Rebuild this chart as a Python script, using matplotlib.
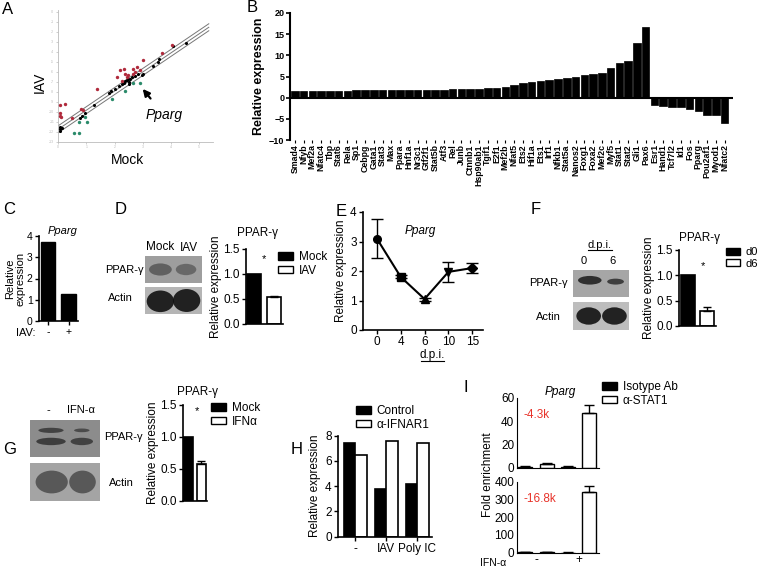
import matplotlib
matplotlib.use("Agg")
import matplotlib.pyplot as plt
from matplotlib.patches import Ellipse, Rectangle, Patch
from matplotlib.lines import Line2D
import numpy as np

plt.rcParams["font.family"] = ["Liberation Sans", "DejaVu Sans"]
plt.rcParams["axes.linewidth"] = 1.2

# ---- data ----
# A: array scatter (IAV vs mock, log intensity)
a_black_x = [0.05, 0.05, 0.07, 0.14, 0.79, 0.85, 0.96, 1.26, 1.79, 1.88, 2.02, 2.16, 2.26, 2.32, 2.38,
             2.44, 2.49, 2.52, 2.52, 2.55, 2.61, 2.71, 2.85, 2.96, 3.02, 3.38, 3.55, 3.58, 4.08, 4.55]
a_black_y = [1.07, 1.27, 1.5, 1.33, 2.33, 2.57, 2.83, 3.67, 4.93, 5.07, 5.33, 5.6, 5.83, 5.93, 6.07,
             6.17, 6.27, 6.0, 5.8, 6.33, 6.5, 6.6, 6.77, 6.73, 6.83, 7.6, 8.0, 8.33, 9.6, 9.9]
a_red_x = [0.05, 0.05, 0.05, 0.11, 0.24, 0.49, 0.82, 0.87, 1.38, 2.08, 2.2, 2.32, 2.38, 2.26, 2.44,
           2.49, 2.64, 2.67, 2.73, 2.79, 2.91, 3.02, 3.67, 4.05]
a_red_y = [3.67, 2.83, 2.6, 2.5, 3.73, 2.4, 3.27, 3.13, 5.33, 6.5, 7.17, 7.33, 6.83, 6.07, 6.5,
           6.67, 6.83, 7.33, 7.0, 7.5, 7.17, 8.17, 8.93, 9.67]
a_green_x = [0.55, 0.73, 0.73, 0.94, 1.02, 1.91, 2.38, 2.67, 2.91]
a_green_y = [0.9, 0.9, 2.0, 2.5, 1.93, 4.23, 5.07, 5.9, 5.93]
a_fit_slope = 1.91
a_fit_icept = 1.25
a_fit_band = 0.35

# B: transcription factor array
b_genes = ["Smad4", "Nfyb", "Mef2a", "Nfatc4", "Tbp", "Stat6", "Rela", "Sp1", "Cebpg", "Gata1",
           "Stat3", "Max", "Ppara", "Hnf1a", "Nr3c1", "Gtf2f1", "Stat5b", "Atf3", "Rel", "Junb",
           "Ctnnb1", "Hsp90ab1", "Tgif1", "E2f1", "Mef2b", "Nfat5", "Ets2", "Hif1a", "Ets1", "Irf1",
           "Nfkb1", "Stat5a", "Nanos2", "Foxg1", "Foxa2", "Mef2c", "Myf5", "Stat1", "Stat2", "Gli1",
           "Pax6", "Esr1", "Hand1", "Tcf7l2", "Id1", "Fos", "Pparg", "Pou2af1", "Myod1", "Nfatc2"]
b_values = [1.6, 1.6, 1.6, 1.6, 1.6, 1.6, 1.6, 1.7, 1.7, 1.7,
            1.7, 1.7, 1.7, 1.8, 1.8, 1.8, 1.8, 1.9, 2.0, 2.0,
            2.0, 2.1, 2.3, 2.4, 2.5, 2.9, 3.5, 3.6, 4.0, 4.1,
            4.5, 4.7, 4.8, 5.3, 5.6, 5.9, 7.0, 8.3, 8.6, 12.8,
            16.7, -1.8, -2.0, -2.1, -2.2, -2.6, -3.1, -4.0, -4.0, -6.0]

# C
c_labels = ["-", "+"]
c_values = [3.7, 1.25]

# D
d_groups = ["Mock", "IAV"]
d_values = [1.0, 0.55]
d_err = [0.0, 0.02]

# E
e_days = ["0", "4", "6", "10", "15"]
e_values = [3.1, 1.8, 1.05, 1.97, 2.1]
e_err = [0.65, 0.05, 0.05, 0.33, 0.17]
e_markers = ["o", "s", "^", "v", "D"]

# F
f_groups = ["d0", "d6"]
f_values = [1.0, 0.3]
f_err = [0.0, 0.07]

# G
g_groups = ["Mock", "IFNα"]
g_values = [1.0, 0.58]
g_err = [0.0, 0.04]

# H
h_conditions = ["-", "IAV", "Poly IC"]
h_control = [7.45, 3.75, 4.15]
h_ifnar = [6.45, 7.6, 7.4]

# I: ChIP, two loci
i_groups = ["Isotype Ab", "α-STAT1"]
i_top = [1.0, 3.5, 1.0, 47.0]
i_top_err = [0.2, 0.5, 0.1, 7.0]
i_bottom = [1.5, 3.5, 1.0, 344.0]
i_bottom_err = [0.3, 0.5, 0.2, 34.0]
i_site_text = ["-4.3k", "-16.8k"]

W, H = 760, 567
fig = plt.figure(figsize=(7.6, 5.67), dpi=100)


def add_ax(l, t, r, b):
    return fig.add_axes([l / W, 1 - b / H, (r - l) / W, (b - t) / H])


def ftext(x, y, s, ha="center", va="center", **kw):
    fig.text(x / W, 1 - y / H, s, ha=ha, va=va, **kw)


def underline(x0, x1, y):
    fig.add_artist(Line2D([x0 / W, x1 / W], [1 - y / H, 1 - y / H], color="black", lw=0.8))


def prism(ax, fs=7.5):
    ax.spines["top"].set_visible(False)
    ax.spines["right"].set_visible(False)
    ax.tick_params(direction="out", length=3, width=1, labelsize=fs, pad=1.5)


def blot(l, t, r, b, bg, bands):
    ax = add_ax(l, t, r, b)
    ax.set_xlim(0, 1)
    ax.set_ylim(0, 1)
    ax.axis("off")
    ax.add_patch(Rectangle((0, 0), 1, 1, color=bg))
    for cx, cy, w, h, col in bands:
        ax.add_patch(Ellipse((cx, cy), w, h, color=col, alpha=0.9, lw=0))


def bar_legend(ax, labels, x, y, fs=8.5):
    handles = [Patch(facecolor="black", edgecolor="black"),
               Patch(facecolor="white", edgecolor="black")]
    ax.legend(handles, labels, loc="upper left", bbox_to_anchor=(x / W, 1 - y / H),
              bbox_transform=fig.transFigure, frameon=False, fontsize=fs,
              handlelength=1.3, handleheight=0.6, labelspacing=0.15,
              handletextpad=0.45, borderpad=0, borderaxespad=0)


def pair_bars(ax, values, err, xlim, ymax, yticks, width=0.72):
    x = np.arange(len(values))
    ax.bar(x, values, width=width, color=["black", "white"], edgecolor="black", lw=1.2)
    ax.errorbar(x[1:], values[1:], yerr=[[0] * (len(values) - 1), err[1:]], fmt="none",
                ecolor="black", elinewidth=1, capsize=3, capthick=1)
    ax.set_xlim(*xlim)
    ax.set_ylim(0, ymax)
    ax.set_yticks(yticks)
    ax.set_xticks([])
    prism(ax)


# ---- A ----
ax = add_ax(57.7, 10, 213, 141.7)
ax.scatter(a_black_x, a_black_y, s=5, color="black", zorder=3, lw=0)
ax.scatter(a_red_x, a_red_y, s=6, color="#b02a3c", zorder=3, lw=0)
ax.scatter(a_green_x, a_green_y, s=6, color="#2a8a6a", zorder=3, lw=0)
xf = np.array([0.0, 5.35])
for off in (-a_fit_band, 0, a_fit_band):
    ax.plot(xf, a_fit_icept + a_fit_slope * xf + off, color="#777777", lw=0.7)
ax.set_xlim(-0.02, 5.5)
ax.set_ylim(0, 13.2)
ax.set_xticks(np.arange(0, 6))
ax.set_xticklabels([str(v) for v in np.arange(0, 6)])
ax.set_yticks(np.arange(0, 14))
ax.set_yticklabels(["-" + str(v) for v in np.arange(13, -1, -1)])
for s in ("top", "right"):
    ax.spines[s].set_visible(False)
for s in ("left", "bottom"):
    ax.spines[s].set_color("#bbbbbb")
    ax.spines[s].set_linewidth(0.6)
ax.tick_params(length=1.5, width=0.5, colors="#bbbbbb", labelsize=2.5, pad=1)
ax.annotate("Pparg", xy=(2.97, 5.4), xytext=(3.75, 2.7), fontsize=10, style="italic",
            ha="center", va="center",
            arrowprops=dict(arrowstyle="-|>", color="black", lw=1.6, shrinkA=6, shrinkB=1))
ftext(40, 82, "IAV", fontsize=10, rotation=90)
ftext(128, 160, "Mock", fontsize=10)
ftext(8, 10, "A", fontsize=12)

# ---- B ----
ax = add_ax(290, 13, 733, 140)
xb = np.arange(len(b_values))
ax.bar(xb, b_values, width=0.86, color="black", edgecolor="black", lw=0.5)
ax.axhline(0, color="black", lw=1.5)
ax.set_xlim(-0.55, 49.95)
ax.set_ylim(-10, 20)
ax.set_yticks([-10, -5, 0, 5, 10, 15, 20])
ax.set_xticks(xb)
ax.set_xticklabels(b_genes, rotation=90, fontsize=6.3, fontweight="bold")
for s in ("top", "right", "bottom"):
    ax.spines[s].set_visible(False)
ax.spines["left"].set_linewidth(1.5)
ax.tick_params(axis="y", direction="out", length=3, width=1.2, labelsize=6.5, pad=1)
ax.tick_params(axis="x", length=2, width=0.8, pad=1)
for t in ax.get_yticklabels():
    t.set_fontweight("bold")
ax.set_ylabel("Relative expression", fontsize=9, fontweight="bold", labelpad=3)
ftext(252, 8, "B", fontsize=12)

# ---- C ----
ax = add_ax(39, 236, 78, 321)
ax.bar([0, 1], c_values, width=0.7, color="black", edgecolor="black")
ax.set_xlim(-0.43, 1.46)
ax.set_ylim(0, 4)
ax.set_yticks([0, 1, 2, 3, 4])
ax.set_xticks([0, 1])
ax.set_xticklabels(c_labels, fontsize=8)
prism(ax)
ax.set_title("Pparg", fontsize=8, style="italic", pad=0, loc="right")
ax.set_ylabel("Relative\nexpression", fontsize=8, labelpad=1, linespacing=1.0)
ftext(26, 333, "IAV:", fontsize=8)
ftext(9, 210, "C", fontsize=12)

# ---- D ----
ftext(121, 210, "D", fontsize=12)
ftext(160, 247, "Mock", fontsize=8.5)
ftext(189, 248, "IAV", fontsize=8.5)
ftext(124, 270, "PPAR-γ", fontsize=8)
ftext(120, 298, "Actin", fontsize=8)
blot(145, 256, 202, 283, "#9e9e9e",
     [(0.27, 0.5, 0.4, 0.45, "#5a5a5a"), (0.72, 0.5, 0.36, 0.42, "#636363")])
blot(145, 287, 202, 314, "#b5b5b5",
     [(0.27, 0.47, 0.48, 0.8, "#111111"), (0.73, 0.5, 0.48, 0.85, "#111111")])
ax = add_ax(246, 249, 283, 324)
pair_bars(ax, d_values, d_err, (-0.4, 1.45), 1.5, [0.0, 0.5, 1.0, 1.5])
ax.set_yticklabels(["0.0", "0.5", "1.0", "1.5"], fontsize=8.5)
ax.set_ylabel("Relative expression", fontsize=8.5, labelpad=1)
ftext(258, 233, "PPAR-γ", fontsize=8.5)
ftext(264, 259, "*", fontsize=8)
bar_legend(ax, d_groups, 278, 251)

# ---- E ----
ax = add_ax(363, 212, 483, 330)
xe = np.arange(len(e_values))
ax.plot(xe, e_values, color="black", lw=1.5, zorder=2)
ax.errorbar(xe, e_values, yerr=e_err, fmt="none", ecolor="black", elinewidth=1,
            capsize=4, capthick=1, zorder=2)
for xi, yi, m in zip(xe, e_values, e_markers):
    ax.plot(xi, yi, marker=m, color="black", ms=5.5, zorder=3)
ax.set_xlim(-0.58, 4.45)
ax.set_ylim(0, 4)
ax.set_yticks([0, 1, 2, 3, 4])
ax.set_xticks(xe)
ax.set_xticklabels(e_days)
prism(ax, fs=8.5)
ax.set_ylabel("Relative expression", fontsize=8.5, labelpad=2)
ftext(420, 231, "Pparg", fontsize=8.5, style="italic")
ftext(432, 355, "d.p.i.", fontsize=8.5)
underline(421, 444, 361)
ftext(341, 212, "E", fontsize=12)

# ---- F ----
ftext(536, 210, "F", fontsize=12)
ftext(600, 245, "d.p.i.", fontsize=8)
underline(588, 612, 250)
ftext(584, 261, "0", fontsize=8)
ftext(613, 261, "6", fontsize=8)
ftext(548, 283, "PPAR-γ", fontsize=8)
ftext(548, 317, "Actin", fontsize=8)
blot(573, 270, 629, 297, "#a6a6a6",
     [(0.3, 0.62, 0.42, 0.32, "#222222"), (0.76, 0.57, 0.3, 0.22, "#333333")])
blot(573, 302, 629, 330, "#bdbdbd",
     [(0.28, 0.5, 0.44, 0.62, "#111111"), (0.74, 0.5, 0.44, 0.62, "#111111")])
ax = add_ax(679, 250, 716, 326)
pair_bars(ax, f_values, f_err, (-0.46, 1.44), 1.5, [0.0, 0.5, 1.0, 1.5])
ax.set_yticklabels(["0.0", "0.5", "1.0", "1.5"], fontsize=8.5)
ax.set_ylabel("Relative expression", fontsize=8.5, labelpad=1)
ftext(700, 238, "PPAR-γ", fontsize=8.5)
ftext(703, 266, "*", fontsize=8)
bar_legend(ax, f_groups, 726, 247, fs=8)

# ---- G ----
ftext(10, 450, "G", fontsize=12)
ftext(48, 410, "-", fontsize=8)
ftext(81, 410, "IFN-α", fontsize=8)
ftext(123, 437, "PPAR-γ", fontsize=8)
ftext(121, 483, "Actin", fontsize=8)
blot(30, 420, 100, 457, "#8c8c8c",
     [(0.3, 0.72, 0.36, 0.14, "#3a3a3a"), (0.3, 0.42, 0.42, 0.2, "#353535"),
      (0.74, 0.72, 0.22, 0.1, "#444444"), (0.74, 0.42, 0.32, 0.2, "#3a3a3a")])
blot(30, 463, 100, 501, "#a4a4a4",
     [(0.31, 0.5, 0.46, 0.6, "#505050"), (0.75, 0.5, 0.38, 0.6, "#505050")])
ax = add_ax(183, 404.7, 207, 500.7)
pair_bars(ax, g_values, g_err, (-0.37, 1.41), 1.5, [0.0, 0.5, 1.0, 1.5])
ax.set_yticklabels(["0.0", "0.5", "1.0", "1.5"], fontsize=8.5)
ax.set_ylabel("Relative expression", fontsize=8.5, labelpad=1)
ftext(198, 392, "PPAR-γ", fontsize=8.5)
ftext(197, 411, "*", fontsize=8)
bar_legend(ax, g_groups, 211, 402)

# ---- H ----
ftext(297, 450, "H", fontsize=12)
ax = add_ax(338, 435.7, 432, 536.7)
xh = np.arange(len(h_conditions))
bw = 0.37
ax.bar(xh - bw / 2, h_control, width=bw, color="black", edgecolor="black", lw=1.2)
ax.bar(xh + bw / 2, h_ifnar, width=bw, color="white", edgecolor="black", lw=1.2)
ax.set_xlim(-0.55, 2.48)
ax.set_ylim(0, 8)
ax.set_yticks([0, 2, 4, 6, 8])
ax.set_xticks(xh)
ax.set_xticklabels(h_conditions)
prism(ax, fs=8.5)
ax.set_ylabel("Relative expression", fontsize=8.5, labelpad=3)
bar_legend(ax, ["Control", "α-IFNAR1"], 356, 405)

# ---- I ----
ftext(466, 388, "I", fontsize=12)
xi4 = np.arange(4)
icol = ["black", "white", "black", "white"]
ax_t = add_ax(517, 398, 599, 467.7)
ax_b = add_ax(517, 481.7, 599, 552.7)
for axi, vals, errs, ymax, ticks, label in (
        (ax_t, i_top, i_top_err, 60, [0, 20, 40, 60], i_site_text[0]),
        (ax_b, i_bottom, i_bottom_err, 400, [0, 100, 200, 300, 400], i_site_text[1])):
    axi.bar(xi4, vals, width=0.66, color=icol, edgecolor="black", lw=1)
    axi.errorbar(xi4, vals, yerr=[[0] * 4, errs], fmt="none", ecolor="black",
                 elinewidth=1, capsize=3.5, capthick=1)
    axi.set_xlim(-0.4, 3.47)
    axi.set_ylim(0, ymax)
    axi.set_yticks(ticks)
    axi.spines["top"].set_visible(False)
    axi.spines["right"].set_visible(False)
    axi.spines["left"].set_linewidth(0.8)
    axi.spines["bottom"].set_linewidth(0.8)
    axi.tick_params(axis="y", length=0, labelsize=8.5, pad=2)
    axi.tick_params(axis="x", length=0)
    axi.set_xticks([])
    axi.text(0.08, 0.76, label, transform=axi.transAxes, color="#e8332a", fontsize=8.5,
             ha="left", va="center")
ax_b.set_xticks([0.5, 2.5])
ax_b.set_xticklabels(["-", "+"], fontsize=8.5)
ax_b.tick_params(axis="x", pad=1)
ftext(560, 392, "Pparg", fontsize=8.5, style="italic")
ftext(488, 475, "Fold enrichment", fontsize=8.5, rotation=90)
ftext(493, 563, "IFN-α", fontsize=7.5)
bar_legend(ax_t, i_groups, 602, 381)

fig.savefig("out.png", dpi=100)
